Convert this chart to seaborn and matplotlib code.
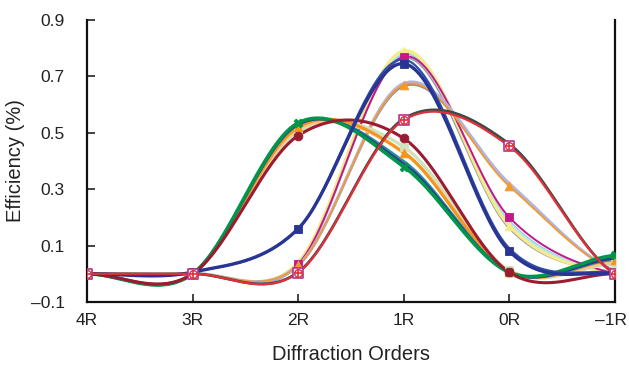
import numpy as np
import pandas as pd
import matplotlib
matplotlib.use("Agg")
import matplotlib.pyplot as plt
import matplotlib.transforms as mtrans
import seaborn as sns

# ---------------- data ----------------
orders = ["4R", "3R", "2R", "1R", "0R", "\u20131R"]

# curves peaking at 2R
a_green = [0, 0, 0.535, 0.38, 0.005, 0.065]
a_navy = [0, 0, 0.530, 0.39, 0.005, 0.055]
a_teal = [0, 0, 0.528, 0.40, 0.006, 0.050]
a_orange = [0, 0, 0.520, 0.43, 0.008, 0.050]
a_lorange = [0, 0, 0.512, 0.43, 0.010, 0.040]
a_lgreen = [0, 0, 0.500, 0.45, 0.012, 0.035]
b_maroon = [0, 0, 0.490, 0.48, 0.005, 0.000]

# curves peaking strongly at 1R
c_navy = [0, 0.006, 0.160, 0.745, 0.080, 0.000]
c_blue = [0, 0.006, 0.160, 0.760, 0.090, 0.004]
d_yellow = [0, 0, 0.040, 0.790, 0.170, 0.000]
d_cyan = [0, 0, 0.038, 0.785, 0.180, 0.000]
d_lblue = [0, 0, 0.036, 0.780, 0.185, 0.000]
d_magenta = [0, 0, 0.035, 0.770, 0.200, 0.000]
d_gray = [0, 0, 0.030, 0.765, 0.160, 0.000]

# curves peaking moderately at 1R
e_lavender = [0, 0, 0.030, 0.675, 0.320, 0.010]
e_orange = [0, 0, 0.030, 0.670, 0.310, 0.010]
e_gray = [0, 0, 0.028, 0.665, 0.315, 0.012]

# broad curves
f_dgray = [0, 0, 0.006, 0.550, 0.460, 0.000]
f_red = [0, 0, 0.004, 0.545, 0.452, 0.000]

# (values, color, linewidth, marker)
series = [
    (d_gray, "#9e9e9e", 1.2, None),
    (d_lblue, "#6cc4ea", 1.6, None),
    (d_cyan, "#b9e3ef", 2.2, None),
    (d_yellow, "#f4ec8c", 2.4, "^"),
    (d_magenta, "#c2188c", 1.4, "s"),
    (e_gray, "#8e8e9e", 1.4, None),
    (e_lavender, "#b3b3e0", 2.2, None),
    (e_orange, "#f39a2a", 1.2, "^"),
    (a_lgreen, "#cfe3bf", 2.4, "s"),
    (a_lorange, "#fbc68c", 2.4, None),
    (a_orange, "#f7941d", 2.2, "^"),
    (a_teal, "#2a8fa0", 1.6, None),
    (a_navy, "#2e3a92", 2.0, None),
    (a_green, "#00954a", 2.6, "X"),
    (b_maroon, "#9b1b30", 2.2, "o"),
    (c_blue, "#2e4fa8", 1.6, None),
    (c_navy, "#283593", 2.4, "s"),
    (f_dgray, "#3c4a48", 2.0, None),
    (f_red, "#e0303a", 1.6, "red"),
]


def smooth_curve(yv, n=40):
    """Excel-style smoothed line (Catmull-Rom / cardinal spline)."""
    yv = np.asarray(yv, float)
    m = len(yv)
    ext = np.concatenate([[yv[0]], yv, [yv[-1]]])
    xs_all, ys_all = [], []
    for i in range(m - 1):
        p0, p1, p2, p3 = ext[i], ext[i + 1], ext[i + 2], ext[i + 3]
        m1 = (p2 - p0) / 2
        m2 = (p3 - p1) / 2
        t = np.linspace(0, 1, n, endpoint=(i == m - 2))
        h00 = 2 * t ** 3 - 3 * t ** 2 + 1
        h10 = t ** 3 - 2 * t ** 2 + t
        h01 = -2 * t ** 3 + 3 * t ** 2
        h11 = t ** 3 - t ** 2
        xs_all.append(i + t)
        ys_all.append(h00 * p1 + h10 * m1 + h01 * p2 + h11 * m2)
    return np.concatenate(xs_all), np.concatenate(ys_all)


sns.set_theme(style="ticks")
plt.rcParams["font.family"] = ["Liberation Sans", "DejaVu Sans"]

fig = plt.figure(figsize=(6.29, 3.70), dpi=100)
ax = fig.add_axes([87 / 629, 1 - 302 / 370, (615 - 87) / 629, (302 - 20) / 370])

xpos = np.arange(len(orders))
for vals, col, lw, mk in series:
    xs, ys = smooth_curve(vals)
    sns.lineplot(x=xs, y=ys, ax=ax, color=col, lw=lw, sort=False, zorder=2)
    if mk == "red":
        sns.scatterplot(x=xpos, y=vals, ax=ax, marker="s", s=55, color="white",
                        edgecolor="#b5338a", linewidth=1.2, zorder=4)
        sns.scatterplot(x=xpos, y=vals, ax=ax, marker="o", s=30, color="white",
                        edgecolor="#e0303a", linewidth=1.0, zorder=5)
        sns.scatterplot(x=xpos, y=vals, ax=ax, marker="+", s=30, color="#e0303a",
                        linewidth=1.2, zorder=6)
    elif mk is not None:
        sns.scatterplot(x=xpos, y=vals, ax=ax, marker=mk, s=40, color=col,
                        edgecolor=col, linewidth=0.6, zorder=3)

ax.set_xlim(0, len(orders) - 1)
ax.set_ylim(-0.1, 0.9)
ax.set_xticks(xpos)
ax.set_xticklabels(orders)
ax.set_yticks([-0.1, 0.1, 0.3, 0.5, 0.7, 0.9])
ax.set_yticklabels(["\u20130.1", "0.1", "0.3", "0.5", "0.7", "0.9"])
ax.tick_params(direction="in", length=6, width=1.2, labelsize=12.5, colors="#222222",
               pad=8)
ax.tick_params(axis="y", pad=16)
last = ax.get_xticklabels()[-1]
last.set_transform(last.get_transform() + mtrans.ScaledTranslation(-4 / 100, 0, fig.dpi_scale_trans))
for side in ["left", "bottom", "right"]:
    ax.spines[side].set_visible(True)
    ax.spines[side].set_linewidth(1.6)
    ax.spines[side].set_color("#111111")
ax.spines["top"].set_visible(False)
ax.set_xlabel("Diffraction Orders", fontsize=14.5, labelpad=12, color="#222222")
ax.set_ylabel("Efficiency (%)", fontsize=14.5, labelpad=4, color="#222222")
ax.grid(False)

fig.savefig("out.png", dpi=100)
